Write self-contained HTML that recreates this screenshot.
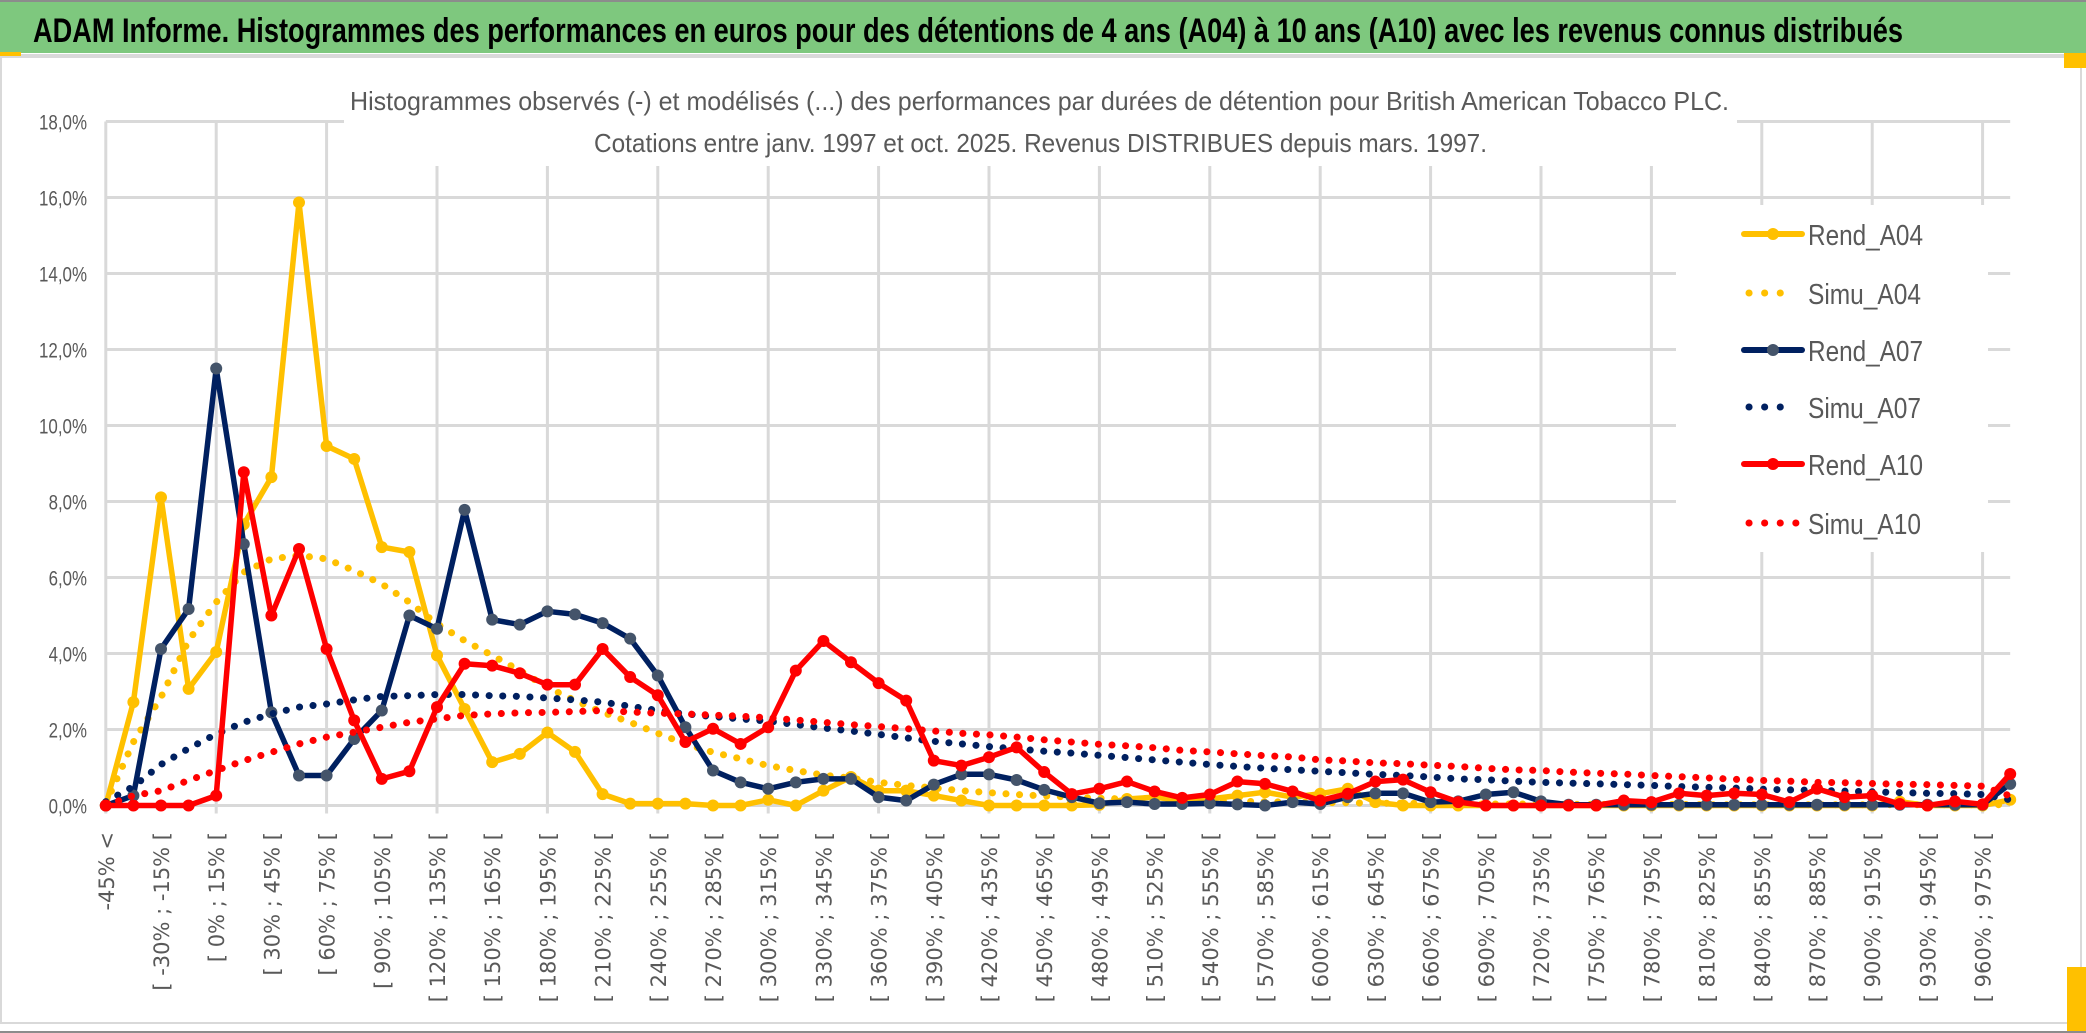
<!DOCTYPE html>
<html><head><meta charset="utf-8"><title>ADAM Informe</title>
<style>
html,body{margin:0;padding:0;background:#fff;}
svg{display:block;}
.yl{font-family:"Liberation Sans",sans-serif;font-size:21px;fill:#595959;}
.xl{font-family:"DejaVu Sans","Liberation Sans",sans-serif;font-size:21px;fill:#595959;}
</style></head>
<body>
<svg id="chart" width="2086" height="1033" viewBox="0 0 2086 1033" xmlns="http://www.w3.org/2000/svg">
  <rect x="0" y="0" width="2086" height="1033" fill="#ffffff"/>
  <rect x="0" y="0" width="2086" height="2" fill="#8c8c8c"/>
  <rect x="0" y="2" width="2086" height="51" fill="#7ec87e"/>
  <text x="33" y="42" font-family="Liberation Sans, sans-serif" font-weight="bold" font-size="34" fill="#000" textLength="1870" lengthAdjust="spacingAndGlyphs">ADAM Informe. Histogrammes des performances en euros pour des détentions de 4 ans (A04) à 10 ans (A10) avec les revenus connus distribués</text>
  <rect x="0" y="54" width="2086" height="3" fill="#d9d9d9"/>
  <rect x="0" y="52" width="21" height="4" fill="#ffc000"/>
  <rect x="1" y="57" width="2080" height="966" fill="none" stroke="#d9d9d9" stroke-width="2"/>
  <rect x="2064" y="53" width="22" height="15" fill="#ffc000"/>
  <rect x="2067" y="967" width="19" height="64" fill="#ffc000"/>
  <rect x="0" y="1031" width="2086" height="2" fill="#8c8c8c"/>
  <g id="grid"></g>
  <rect x="344" y="60" width="1393" height="106" fill="#fff"/>
  <text x="350" y="110" font-family="Liberation Sans, sans-serif" font-size="26" fill="#595959" textLength="1379" lengthAdjust="spacingAndGlyphs">Histogrammes observés (-) et modélisés (...) des performances par durées de détention pour British American Tobacco PLC.</text>
  <text x="594" y="152" font-family="Liberation Sans, sans-serif" font-size="26" fill="#595959" textLength="893" lengthAdjust="spacingAndGlyphs">Cotations entre janv. 1997 et oct. 2025. Revenus DISTRIBUES depuis mars. 1997.</text>
  <g id="yaxis"></g>
  <g id="xaxis"></g>
  <g id="series"></g>
  <g id="legend"></g>
</svg>
<script>
const categories = ["-45% <","[ -45% ; -30% [","[ -30% ; -15% [","[ -15% ; 0% [","[ 0% ; 15% [","[ 15% ; 30% [","[ 30% ; 45% [","[ 45% ; 60% [","[ 60% ; 75% [","[ 75% ; 90% [","[ 90% ; 105% [","[ 105% ; 120% [","[ 120% ; 135% [","[ 135% ; 150% [","[ 150% ; 165% [","[ 165% ; 180% [","[ 180% ; 195% [","[ 195% ; 210% [","[ 210% ; 225% [","[ 225% ; 240% [","[ 240% ; 255% [","[ 255% ; 270% [","[ 270% ; 285% [","[ 285% ; 300% [","[ 300% ; 315% [","[ 315% ; 330% [","[ 330% ; 345% [","[ 345% ; 360% [","[ 360% ; 375% [","[ 375% ; 390% [","[ 390% ; 405% [","[ 405% ; 420% [","[ 420% ; 435% [","[ 435% ; 450% [","[ 450% ; 465% [","[ 465% ; 480% [","[ 480% ; 495% [","[ 495% ; 510% [","[ 510% ; 525% [","[ 525% ; 540% [","[ 540% ; 555% [","[ 555% ; 570% [","[ 570% ; 585% [","[ 585% ; 600% [","[ 600% ; 615% [","[ 615% ; 630% [","[ 630% ; 645% [","[ 645% ; 660% [","[ 660% ; 675% [","[ 675% ; 690% [","[ 690% ; 705% [","[ 705% ; 720% [","[ 720% ; 735% [","[ 735% ; 750% [","[ 750% ; 765% [","[ 765% ; 780% [","[ 780% ; 795% [","[ 795% ; 810% [","[ 810% ; 825% [","[ 825% ; 840% [","[ 840% ; 855% [","[ 855% ; 870% [","[ 870% ; 885% [","[ 885% ; 900% [","[ 900% ; 915% [","[ 915% ; 930% [","[ 930% ; 945% [","[ 945% ; 960% [","[ 960% ; 975% [","> 975%"];
const yTicks = [0,2,4,6,8,10,12,14,16,18];
const yTickLabels = ["0,0%","2,0%","4,0%","6,0%","8,0%","10,0%","12,0%","14,0%","16,0%","18,0%"];
const rendA04 = [0,2.72,8.11,3.07,4.04,7.4,8.64,15.87,9.46,9.12,6.80,6.67,3.95,2.54,1.14,1.36,1.92,1.41,0.30,0.05,0.05,0.05,0,0,0.15,0,0.39,0.75,0.39,0.39,0.26,0.13,0,0,0,0,0.02,0.17,0.22,0.13,0.17,0.26,0.35,0.22,0.31,0.44,0.09,0,0,0,0,0,0,0,0,0,0,0,0,0,0,0,0,0,0,0.1,0,0,0,0.15];
const simuA04 = [0.05,1.67,2.85,4.34,5.35,6.14,6.49,6.58,6.49,6.18,5.83,5.35,4.78,4.34,3.95,3.55,3.11,2.76,2.45,2.19,1.9,1.62,1.4,1.23,1.05,0.92,0.8,0.72,0.61,0.53,0.46,0.39,0.34,0.29,0.25,0.22,0.19,0.17,0.15,0.14,0.12,0.11,0.1,0.09,0.08,0.07,0.06,0.06,0.05,0.05,0.04,0.04,0.04,0.03,0.03,0.03,0.03,0.03,0.02,0.02,0.02,0.02,0.02,0.02,0.02,0.02,0.02,0.02,0.02,0.02];
const rendA07 = [0,0.26,4.12,5.17,11.5,6.88,2.45,0.79,0.79,1.75,2.50,5.0,4.65,7.78,4.89,4.76,5.11,5.03,4.8,4.39,3.42,2.06,0.92,0.61,0.44,0.61,0.70,0.70,0.22,0.13,0.55,0.82,0.82,0.67,0.41,0.22,0.06,0.09,0.04,0.04,0.06,0.03,0,0.09,0.04,0.22,0.32,0.32,0.09,0.11,0.29,0.35,0.11,0.02,0.02,0.02,0.02,0.02,0.02,0.02,0.02,0.02,0.02,0.02,0.02,0.02,0.02,0.02,0.02,0.57];
const simuA07 = [0.1,0.5,1.08,1.5,1.88,2.19,2.41,2.59,2.67,2.78,2.87,2.89,2.92,2.92,2.89,2.87,2.83,2.78,2.72,2.61,2.5,2.41,2.34,2.28,2.22,2.13,2.04,1.96,1.87,1.78,1.69,1.62,1.55,1.49,1.43,1.38,1.32,1.26,1.2,1.14,1.08,1.03,0.98,0.94,0.9,0.86,0.82,0.79,0.75,0.7,0.68,0.64,0.61,0.59,0.57,0.55,0.53,0.5,0.48,0.46,0.43,0.41,0.4,0.38,0.36,0.34,0.32,0.31,0.29,0.15];
const rendA10 = [0,0,0,0,0.26,8.77,5.0,6.75,4.12,2.24,0.70,0.90,2.59,3.73,3.68,3.48,3.18,3.18,4.12,3.38,2.9,1.67,2.02,1.62,2.06,3.55,4.33,3.77,3.22,2.76,1.18,1.05,1.27,1.53,0.88,0.3,0.44,0.63,0.37,0.2,0.29,0.63,0.57,0.37,0.13,0.31,0.63,0.68,0.35,0.09,0,0,0,0,0,0.13,0.09,0.32,0.26,0.32,0.29,0.09,0.44,0.22,0.26,0.04,0,0.11,0.03,0.83];
const simuA10 = [0,0.26,0.39,0.66,0.92,1.18,1.4,1.62,1.8,1.93,2.06,2.19,2.28,2.37,2.41,2.44,2.45,2.47,2.5,2.46,2.43,2.41,2.38,2.35,2.31,2.25,2.19,2.13,2.08,2.02,1.96,1.9,1.86,1.8,1.73,1.67,1.61,1.57,1.52,1.45,1.41,1.36,1.31,1.28,1.2,1.17,1.12,1.1,1.06,1.03,0.98,0.94,0.92,0.88,0.85,0.83,0.79,0.76,0.73,0.69,0.66,0.64,0.61,0.6,0.58,0.56,0.55,0.53,0.51,0.25];
const seriesNames = ["Rend_A04","Simu_A04","Rend_A07","Simu_A07","Rend_A10","Simu_A10"];

const NS = "http://www.w3.org/2000/svg";
const X0 = 105.8, DX = 27.6, Y0 = 805.5, DY = 38;
function xScale(i){ return X0 + i*DX; }
function yScale(v){ return Y0 - v*DY; }
function mk(tag, attrs, parent){
  const e = document.createElementNS(NS, tag);
  for (const k in attrs) e.setAttribute(k, attrs[k]);
  parent.appendChild(e);
  return e;
}
const grid = document.getElementById('grid');
const xEnd = xScale(categories.length - 1);
yTicks.forEach((t) => {
  const l = mk('line', {x1:X0, x2:xEnd, y1:yScale(t), y2:yScale(t), stroke:'#d9d9d9', 'stroke-width':3}, grid);
  
  
});
for (let i = 0; i < categories.length; i += 4) {
  const l = mk('line', {x1:xScale(i), x2:xScale(i), y1:yScale(18), y2:yScale(0)+8, stroke:'#d9d9d9', 'stroke-width':3}, grid);
  
  
}
const yaxis = document.getElementById('yaxis');
yTicks.forEach((t, k) => {
  const tx = mk('text', {x:87, y:yScale(t)+8, 'text-anchor':'end', class:'yl', textLength: yTickLabels[k].length*9.6, lengthAdjust:'spacingAndGlyphs'}, yaxis);
  tx.textContent = yTickLabels[k];
  
  
});
const xaxis = document.getElementById('xaxis');
categories.forEach((c, i) => {
  if (i % 2 !== 0) return;
  const x = xScale(i) + 8, y = 832;
  const tx = mk('text', {x:x, y:y, 'text-anchor':'end', class:'xl', transform:'rotate(-90 '+x+' '+y+')'}, xaxis);
  tx.textContent = c;
  
  
});
// legend background
const lg = document.getElementById('legend');
const lbg = mk('rect', {x:1676, y:205, width:312, height:347, fill:'#fff'}, lg);


// move legend bg before series so it hides gridlines only
const svg = document.getElementById('chart');
svg.insertBefore(lbg, document.getElementById('yaxis'));

const seriesG = document.getElementById('series');
const defs = [
  {data:rendA04, color:'#ffc000', marker:'#ffc000', dotted:false},
  {data:simuA04, color:'#ffc000', dotted:true},
  {data:rendA07, color:'#002060', marker:'#44546a', dotted:false},
  {data:simuA07, color:'#002060', dotted:true},
  {data:rendA10, color:'#ff0000', marker:'#ff0000', dotted:false},
  {data:simuA10, color:'#ff0000', dotted:true}
];
defs.forEach((s, k) => {
  const g = mk('g', {}, seriesG);
  
  
  const pts = s.data.map((v, i) => xScale(i).toFixed(1) + ',' + yScale(v).toFixed(1)).join(' ');
  if (s.dotted) {
    const p = mk('polyline', {points:pts, fill:'none', stroke:s.color, 'stroke-width':7, 'stroke-linecap':'round', 'stroke-dasharray':'0.1 13.5'}, g);
    
    
  } else {
    const p = mk('polyline', {points:pts, fill:'none', stroke:s.color, 'stroke-width':5.5, 'stroke-linejoin':'round'}, g);
    
    
    s.data.forEach((v, i) => {
      const c = mk('circle', {cx:xScale(i), cy:yScale(v), r:6, fill:s.marker}, g);
      
      
    });
  }
});
// legend entries
const legendY = [234, 293, 350, 407, 464, 523];
defs.forEach((s, k) => {
  const y = legendY[k];
  const g = mk('g', {}, lg);
  
  
  if (s.dotted) {
    mk('line', {x1:1749, x2:(k===5?1803:1795), y1:y, y2:y, stroke:s.color, 'stroke-width':7, 'stroke-linecap':'round', 'stroke-dasharray':'0.1 15.5'}, g);
  } else {
    mk('line', {x1:1744, x2:1802, y1:y, y2:y, stroke:s.color, 'stroke-width':6, 'stroke-linecap':'round'}, g);
    mk('circle', {cx:1773, cy:y, r:6, fill:s.marker}, g);
  }
  const t = mk('text', {x:1808, y:y+11, 'font-family':'Liberation Sans, sans-serif', 'font-size':29, fill:'#595959', textLength:(k%2===0?115:113), lengthAdjust:'spacingAndGlyphs'}, g);
  t.textContent = seriesNames[k];
});
</script>
</body></html>
